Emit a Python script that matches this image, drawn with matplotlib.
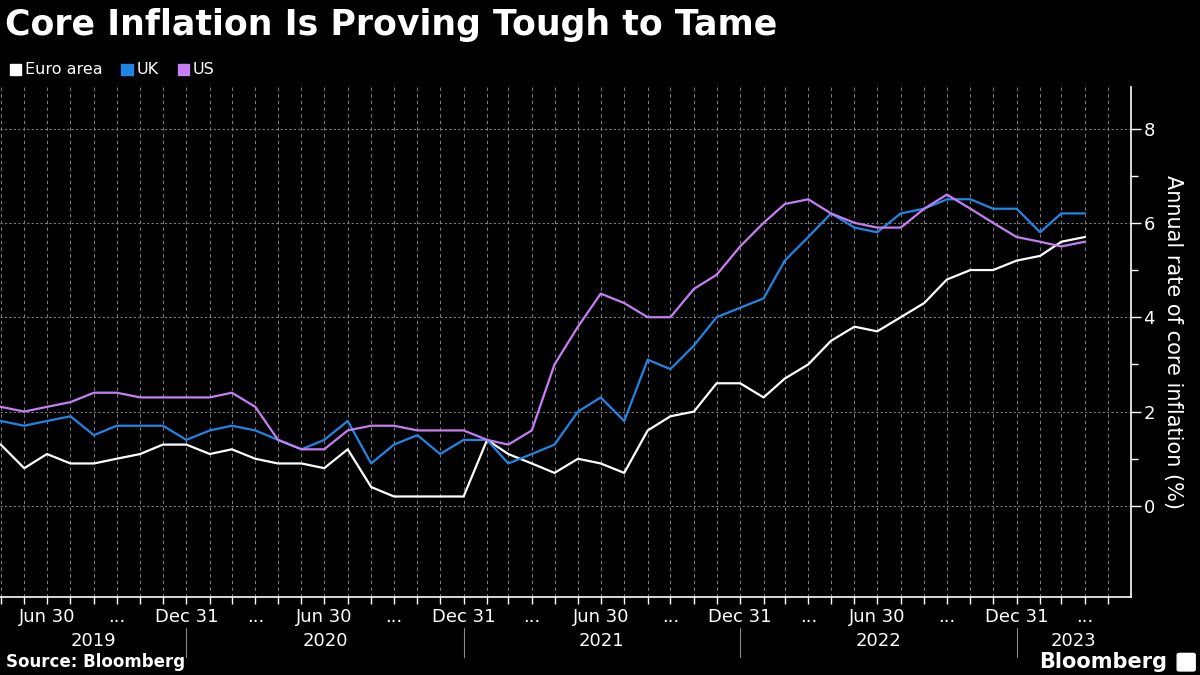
import numpy as np
import pandas as pd
import matplotlib
matplotlib.use("Agg")
import matplotlib.pyplot as plt
import matplotlib.transforms as mtransforms
from matplotlib.patches import Rectangle, FancyBboxPatch

# monthly core inflation, Apr 2019 - Mar 2023
months = pd.date_range("2019-04-30", periods=48, freq="ME")
euro = [1.3, 0.8, 1.1, 0.9, 0.9, 1.0, 1.1, 1.3, 1.3, 1.1, 1.2, 1.0,
        0.9, 0.9, 0.8, 1.2, 0.4, 0.2, 0.2, 0.2, 0.2, 1.4, 1.1, 0.9,
        0.7, 1.0, 0.9, 0.7, 1.6, 1.9, 2.0, 2.6, 2.6, 2.3, 2.7, 3.0,
        3.5, 3.8, 3.7, 4.0, 4.3, 4.8, 5.0, 5.0, 5.2, 5.3, 5.6, 5.7]
uk = [1.8, 1.7, 1.8, 1.9, 1.5, 1.7, 1.7, 1.7, 1.4, 1.6, 1.7, 1.6,
      1.4, 1.2, 1.4, 1.8, 0.9, 1.3, 1.5, 1.1, 1.4, 1.4, 0.9, 1.1,
      1.3, 2.0, 2.3, 1.8, 3.1, 2.9, 3.4, 4.0, 4.2, 4.4, 5.2, 5.7,
      6.2, 5.9, 5.8, 6.2, 6.3, 6.5, 6.5, 6.3, 6.3, 5.8, 6.2, 6.2]
us = [2.1, 2.0, 2.1, 2.2, 2.4, 2.4, 2.3, 2.3, 2.3, 2.3, 2.4, 2.1,
      1.4, 1.2, 1.2, 1.6, 1.7, 1.7, 1.6, 1.6, 1.6, 1.4, 1.3, 1.6,
      3.0, 3.8, 4.5, 4.3, 4.0, 4.0, 4.6, 4.9, 5.5, 6.0, 6.4, 6.5,
      6.2, 6.0, 5.9, 5.9, 6.3, 6.6, 6.3, 6.0, 5.7, 5.6, 5.5, 5.6]
series_names = ["Euro area", "UK", "US"]
series_colors = ["#ffffff", "#1f86e8", "#c77ef5"]
years = ["2019", "2020", "2021", "2022", "2023"]

bg = "black"
grid_col = "#7a7a7a"

fig = plt.figure(figsize=(12, 6.75), dpi=100, facecolor=bg)
ax = fig.add_axes([0.0, 0.1156, 0.9425, 0.7548], facecolor=bg)

for vals, name, col in zip([euro, uk, us], series_names, series_colors):
    ax.plot(months, vals, color=col, lw=1.6, label=name, zorder=3)

ax.set_ylim(-1.93, 8.87)
ax.set_xlim(months[0] - pd.Timedelta(days=1), pd.Timestamp("2023-05-31"))

# y axis on the right
ax.yaxis.tick_right()
ax.yaxis.set_label_position("right")
ax.set_yticks([0, 2, 4, 6, 8])
ax.set_yticks([1, 3, 5, 7], minor=True)
ax.tick_params(axis="y", which="both", colors="white", labelsize=13,
               length=7, width=1, pad=2)
ax.tick_params(axis="y", which="minor", length=5)
ax.set_ylabel("Annual rate of core inflation (%)", color="white",
              fontsize=15, rotation=270, labelpad=20)

# x axis: a tick every month, labels at quarter ends
month_ticks = pd.date_range("2019-04-30", "2023-04-30", freq="ME")
ax.set_xticks(month_ticks, minor=True)
qticks = months[2::3]
qlabels = []
for d in qticks:
    if d.month == 6:
        qlabels.append("Jun 30")
    elif d.month == 12:
        qlabels.append("Dec 31")
    else:
        qlabels.append("...")
ax.set_xticks(qticks)
ax.set_xticklabels(qlabels)
ax.tick_params(axis="x", which="both", colors="white", labelsize=13,
               length=5, width=1, pad=3)

ax.grid(which="major", axis="y", color=grid_col, ls=(0, (2, 2)), lw=0.8)
ax.grid(which="both", axis="x", color=grid_col, ls=(0, (3, 3)), lw=0.8)

for side in ["left", "top"]:
    ax.spines[side].set_visible(False)
for side in ["right", "bottom"]:
    ax.spines[side].set_color("white")
    ax.spines[side].set_linewidth(1.2)

# year labels and separators under the axis
trans = mtransforms.blended_transform_factory(ax.transData, ax.transAxes)
decs = [d for d in months if d.month == 12]
bounds = [ax.get_xlim()[0]] + [matplotlib.dates.date2num(d) for d in decs] + [ax.get_xlim()[1]]
for i, yr in enumerate(years):
    mid = (bounds[i] + bounds[i + 1]) / 2
    ax.text(mid, -0.086, yr, transform=trans, color="white", fontsize=13,
            ha="center", va="center")
for d in decs:
    ax.plot([d, d], [-0.061, -0.117], transform=trans, color="#888888",
            lw=0.8, clip_on=False)

# title and legend
fig.text(0.004, 0.963, "Core Inflation Is Proving Tough to Tame", color="white",
         fontsize=25, fontweight="bold", ha="left", va="center")
lx = 0.008
for name, col in zip(series_names, series_colors):
    fig.patches.append(Rectangle((lx, 0.889), 0.0095, 0.0165, color=col,
                                 transform=fig.transFigure, figure=fig))
    t = fig.text(lx + 0.0125, 0.897, name, color="white", fontsize=11.5,
                 ha="left", va="center")
    fig.canvas.draw()
    bb = t.get_window_extent().transformed(fig.transFigure.inverted())
    lx = bb.x1 + 0.016

fig.text(0.005, 0.019, "Source: Bloomberg", color="white", fontsize=12,
         fontweight="bold", ha="left", va="center")
fig.text(0.973, 0.019, "Bloomberg", color="white", fontsize=15,
         fontweight="bold", ha="right", va="center")
fig.patches.append(FancyBboxPatch((0.983, 0.008), 0.011, 0.022,
                                  boxstyle="round,pad=0.002", color="white",
                                  transform=fig.transFigure, figure=fig))

fig.savefig("out.png", dpi=100, facecolor=bg)
